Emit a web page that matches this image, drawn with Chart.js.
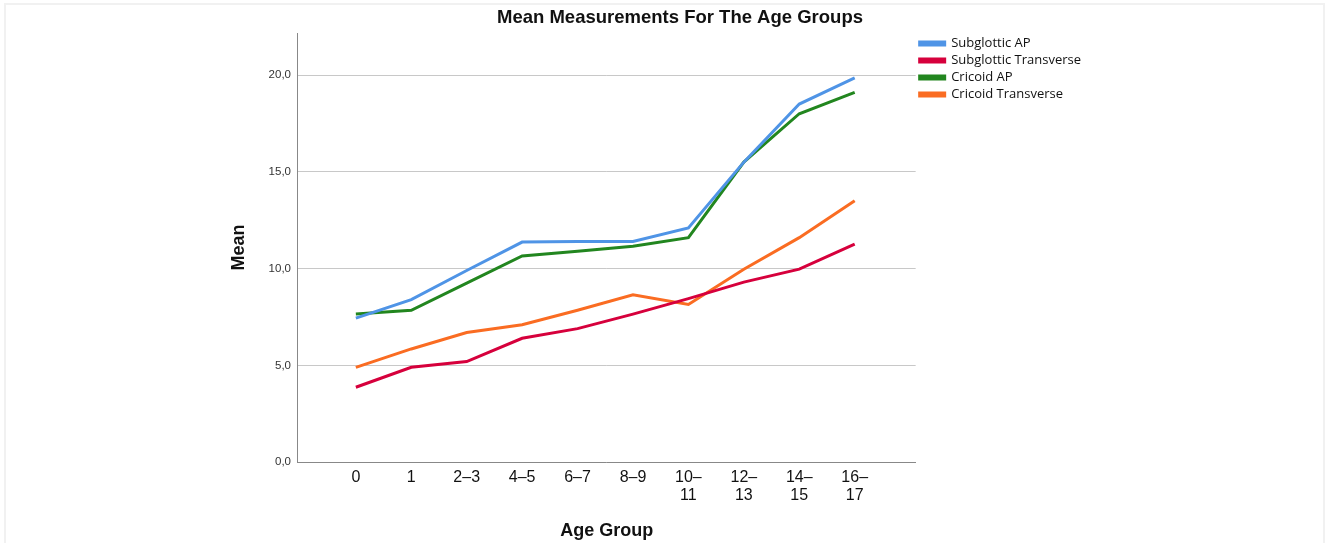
<!DOCTYPE html>
<html>
<head>
<meta charset="utf-8">
<script src="https://cdn.jsdelivr.net/npm/chart.js@4.4.0/dist/chart.umd.min.js"></script>
<style>
  html, body { margin: 0; padding: 0; background: #fff; }
  #wrap { width: 1326px; height: 543px; position: relative; }
  #cadre { position: absolute; left: 4px; top: 3px; right: 1px; bottom: -5px;
           border: 2px solid #f1f1f1; }
</style>
</head>
<body>
<div id="wrap"><div id="cadre"></div><canvas id="graphique"></canvas></div>
<script>
// DONNEES
const titre = 'Mean Measurements For The Age Groups';
const ageGroups = ['0', '1', '2–3', '4–5', '6–7', '8–9', ['10–', '11'], ['12–', '13'], ['14–', '15'], ['16–', '17']];
const subglotticAP = [7.44, 8.4, 9.9, 11.37, 11.4, 11.4, 12.1, 15.5, 18.5, 19.85];
const subglotticTransverse = [3.87, 4.9, 5.2, 6.4, 6.9, 7.65, 8.45, 9.3, 9.97, 11.27];
const cricoidAP = [7.65, 7.85, 9.25, 10.65, 10.9, 11.15, 11.6, 15.5, 18.0, 19.1];
const cricoidTransverse = [4.9, 5.85, 6.7, 7.1, 7.85, 8.65, 8.15, 9.97, 11.6, 13.5];
const yTicks = [0, 5, 10, 15, 20];

// points {x: index, y: valeur}
function toPoints(values) {
    return values.map((v, i) => ({ x: i, y: v }));
}

function serie(label, values, color) {
    return {
        label: label,
        data: toPoints(values),
        borderColor: color,
        backgroundColor: color,
        borderWidth: 3,
        pointRadius: 0,
        tension: 0,
    };
}

const fontAxe = "'Liberation Sans', Arial, sans-serif";

// titre dessine a la main (centre comme dans l'original, pas sur la zone du layout)
const titrePlugin = {
    id: 'titreCentre',
    afterDraw(chart) {
        const ctx = chart.ctx;
        ctx.save();
        ctx.font = "bold 18.5px " + fontAxe;
        ctx.fillStyle = '#111';
        ctx.textAlign = 'center';
        ctx.textBaseline = 'middle';
        ctx.fillText(titre, 680, 18);
        ctx.restore();
    }
};

new Chart(document.getElementById('graphique'), {
    type: 'line',
    data: {
        datasets: [
            serie('Subglottic AP', subglotticAP, '#4f94e6'),
            serie('Subglottic Transverse', subglotticTransverse, '#d6003c'),
            serie('Cricoid AP', cricoidAP, '#22861f'),
            serie('Cricoid Transverse', cricoidTransverse, '#fa6c22'),
        ]
    },
    plugins: [titrePlugin],
    options: {
        responsive: true,
        maintainAspectRatio: false,
        animation: false,
        layout: {
            padding: { left: 228, right: 235, top: 33, bottom: 1 }
        },
        plugins: {
            legend: {
                position: 'right',
                align: 'start',
                labels: {
                    boxWidth: 25,
                    boxHeight: 3,
                    padding: 4,
                    color: '#111',
                    font: { family: "'Open Sans', sans-serif", size: 13 },
                },
            },
            tooltip: { enabled: false },
        },
        scales: {
            x: {
                type: 'linear',
                min: -1.044,
                max: 10.1,
                afterBuildTicks: function (axis) {
                    axis.ticks = ageGroups.map((g, i) => ({ value: i }));
                },
                ticks: {
                    color: '#111',
                    padding: 7,
                    autoSkip: false,
                    maxRotation: 0,
                    font: { family: fontAxe, size: 16, lineHeight: 1.1 },
                    callback: function (value) {
                        return ageGroups[value];
                    },
                },
                grid: { display: false, drawTicks: false },
                border: { display: true, color: '#888', width: 1 },
                title: {
                    display: true,
                    text: 'Age Group',
                    color: '#111',
                    font: { family: fontAxe, size: 18, weight: 'bold' },
                    padding: { top: 9, bottom: 0 },
                },
            },
            y: {
                min: 0,
                max: 22.17,
                afterBuildTicks: function (axis) {
                    axis.ticks = yTicks.map(v => ({ value: v }));
                },
                ticks: {
                    color: '#333',
                    padding: 7,
                    font: { family: fontAxe, size: 11.5 },
                    callback: function (value) {
                        return value.toFixed(1).replace('.', ',');
                    },
                },
                grid: { color: '#c8c8c8', drawTicks: false, lineWidth: 1 },
                border: { display: true, color: '#888', width: 1 },
                title: {
                    display: true,
                    text: 'Mean',
                    color: '#111',
                    font: { family: fontAxe, size: 18, weight: 'bold' },
                    padding: { top: 0, bottom: 12 },
                },
            },
        },
    },
});
</script>
</body>
</html>
